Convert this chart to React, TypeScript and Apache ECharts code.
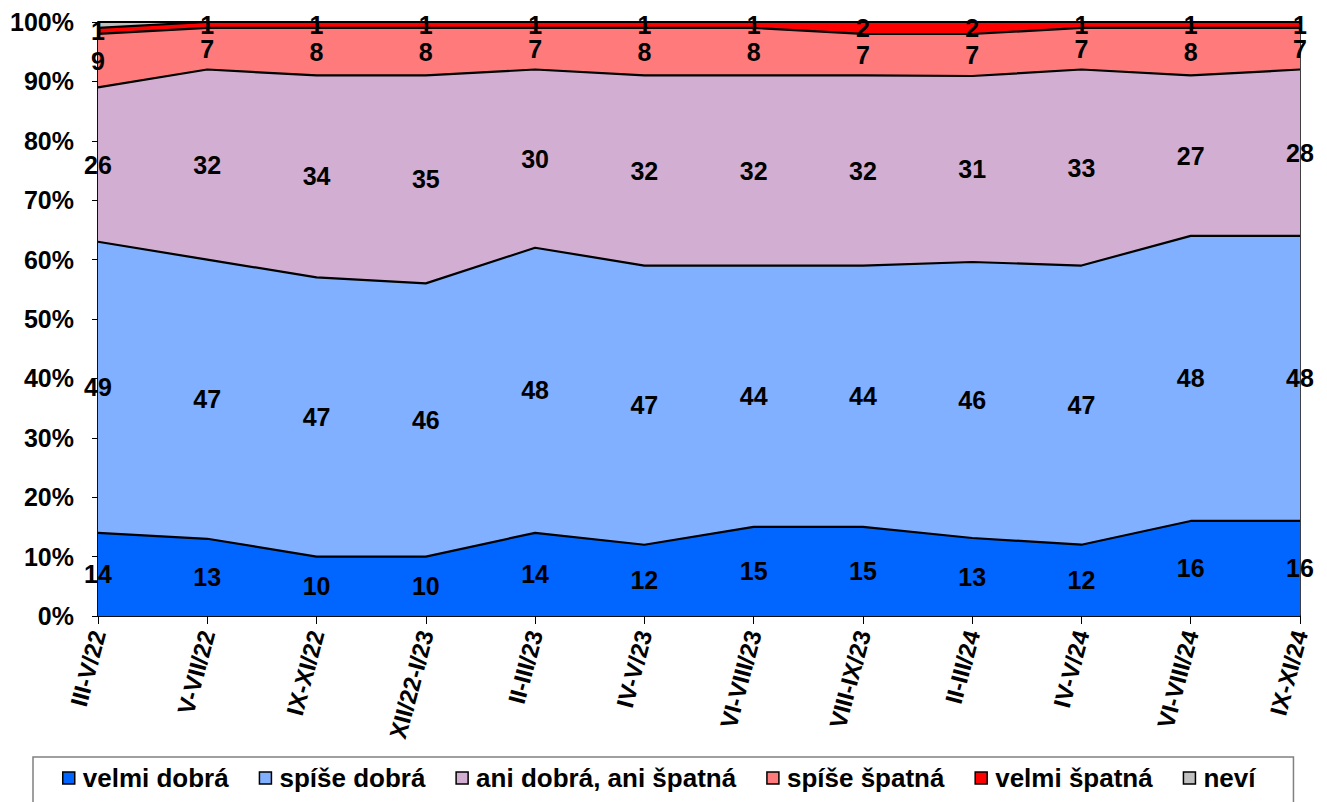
import React, { useEffect, useRef } from "react";
import * as echarts from "echarts";

const categories = [
  "III-V/22", "V-VII/22", "IX-XI/22", "XII/22-I/23", "II-III/23", "IV-V/23",
  "VI-VIII/23", "VIII-IX/23", "II-III/24", "IV-V/24", "VI-VIII/24", "IX-XI/24",
];
const velmiDobra = [14, 13, 10, 10, 14, 12, 15, 15, 13, 12, 16, 16];
const spiseDobra = [49, 47, 47, 46, 48, 47, 44, 44, 46, 47, 48, 48];
const aniAni = [26, 32, 34, 35, 30, 32, 32, 32, 31, 33, 27, 28];
const spiseSpatna = [9, 7, 8, 8, 7, 8, 8, 7, 7, 7, 8, 7];
const velmiSpatna = [1, 1, 1, 1, 1, 1, 1, 2, 2, 1, 1, 1];
const nevi = [1, 0, 0, 0, 0, 0, 0, 0, 0, 0, 0, 0];

const seriesDefs = [
  { name: "velmi dobrá", data: velmiDobra, color: "#0066FF", label: true },
  { name: "spíše dobrá", data: spiseDobra, color: "#80B0FF", label: true },
  { name: "ani dobrá, ani špatná", data: aniAni, color: "#D2AFD2", label: true },
  { name: "spíše špatná", data: spiseSpatna, color: "#FF7A7A", label: true },
  { name: "velmi špatná", data: velmiSpatna, color: "#FF0000", label: true },
  { name: "neví", data: nevi, color: "#C0C0C0", label: false },
];

const FONT = "'Liberation Sans', Arial, sans-serif";

export default function App() {
  const ref = useRef<HTMLDivElement>(null);
  useEffect(() => {
    if (!ref.current) return;
    const chart = echarts.init(ref.current, undefined, { renderer: "svg" });
    const totals = categories.map((_, i) =>
      seriesDefs.reduce((s, d) => s + d.data[i], 0)
    );
    const norm = seriesDefs.map((d) => d.data.map((v, i) => (v / totals[i]) * 100));

    const areaSeries: any[] = seriesDefs.map((d, k) => ({
      name: d.name,
      type: "line",
      stack: "total",
      symbol: "none",
      data: norm[k],
      lineStyle: { color: "#000", width: 2.2 },
      itemStyle: { color: d.color, borderColor: "#000", borderWidth: 1.5 },
      areaStyle: { color: d.color, opacity: 1 },
      z: 2,
    }));

    const labelData: any[] = [];
    const cum = categories.map(() => 0);
    seriesDefs.forEach((d, k) => {
      categories.forEach((_, i) => {
        const h = norm[k][i];
        if (d.label) {
          labelData.push({ value: [i, cum[i] + h / 2], raw: d.data[i] });
        }
        cum[i] += h;
      });
    });

    const labelSeries = {
      name: "labels",
      type: "scatter",
      symbolSize: 0,
      data: labelData,
      silent: true,
      z: 10,
      itemStyle: { color: "#000", opacity: 1 },
      label: {
        show: true,
        position: [0, 0],
        align: "center",
        verticalAlign: "middle",
        formatter: (p: any) => String(p.data.raw),
        color: "#000",
        opacity: 1,
        textBorderWidth: 0,
        fontFamily: FONT,
        fontWeight: "bold",
        fontSize: 25,
      },
      labelLayout: { hideOverlap: false },
    };

    chart.setOption({
      animation: false,
      backgroundColor: "#fff",
      grid: {
        left: 98,
        right: 27,
        top: 22,
        bottom: 186,
        show: true,
        borderColor: "#000",
        borderWidth: 1.5,
        backgroundColor: "transparent",
      },
      legend: {
        data: seriesDefs.map((d) => ({
          name: d.name,
          icon: "rect",
          itemStyle: { color: d.color, borderColor: "#000", borderWidth: 1.5 },
        })),
        left: 33,
        top: 757,
        padding: [8, 38, 20, 29],
        itemWidth: 12,
        itemHeight: 12,
        itemGap: 30,
        borderColor: "#808080",
        borderWidth: 1.5,
        textStyle: {
          fontFamily: FONT,
          fontWeight: "bold",
          fontSize: 26,
          color: "#000",
          padding: [0, 0, 0, 3],
        },
      },
      xAxis: {
        type: "category",
        data: categories,
        boundaryGap: false,
        axisLine: { lineStyle: { color: "#000", width: 1.5 } },
        axisTick: { show: true, length: 8, lineStyle: { color: "#000" } },
        axisLabel: {
          rotate: 75,
          interval: 0,
          margin: 15,
          fontFamily: FONT,
          fontWeight: "bold",
          fontSize: 24,
          color: "#000",
        },
        splitLine: { show: false },
      },
      yAxis: {
        type: "value",
        min: 0,
        max: 100,
        interval: 10,
        axisLine: { show: true, lineStyle: { color: "#000", width: 1.5 } },
        axisTick: { show: true, length: 6, lineStyle: { color: "#000" } },
        axisLabel: {
          formatter: "{value}%",
          margin: 24,
          fontFamily: FONT,
          fontWeight: "bold",
          fontSize: 25,
          color: "#000",
        },
        splitLine: { show: false },
      },
      series: [...areaSeries, labelSeries],
    });
    return () => chart.dispose();
  }, []);
  return (
    <div
      ref={ref}
      style={{ position: "fixed", left: 0, top: 0, width: 1327, height: 802, background: "#fff" }}
    />
  );
}
